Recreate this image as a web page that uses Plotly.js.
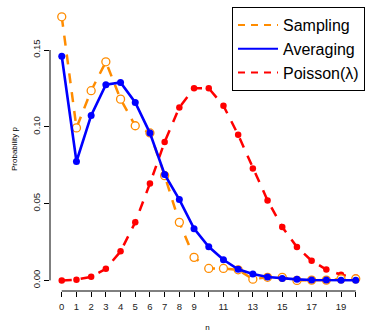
<!DOCTYPE html>
<html>
<head>
<meta charset="utf-8">
<script src="https://cdn.plot.ly/plotly-3.0.1.min.js"></script>
<style>html,body{margin:0;padding:0;background:#fff;}#chart{width:365px;height:332px;}</style>
</head>
<body>
<div id="chart"></div>
<script>
const n = [0,1,2,3,4,5,6,7,8,9,10,11,12,13,14,15,16,17,18,19,20];
const sampling = [0.1716,0.0993,0.1235,0.1423,0.1180,0.1007,0.0960,0.0682,0.0378,0.0150,0.0078,0.0078,0.0069,0.0008,0.0020,0.0020,0.0000,0.0002,0.0002,0.0010,0.0010];
const averaging = [0.1459,0.0774,0.1074,0.1274,0.1289,0.1158,0.0959,0.0690,0.0526,0.0337,0.0219,0.0134,0.0072,0.0041,0.0022,0.0013,0.0007,0.0003,0.0002,0.0001,0.0001];
const poisson = [0.0000,0.0005,0.0023,0.0076,0.0189,0.0378,0.0631,0.0901,0.1126,0.1251,0.1251,0.1137,0.0948,0.0729,0.0521,0.0347,0.0217,0.0128,0.0071,0.0037,0.0019];
const xTickText = ['0','1','2','3','4','5','6','7','8','9','','11','','13','','15','','17','','19',''];
const yTickVals = [0, 0.05, 0.10, 0.15];
const legendNames = ['Sampling','Averaging','Poisson(\u03bb)'];

const orange = '#FF8C00', blue = '#0000FF', red = '#FF0000';
const font = 'Liberation Sans, Arial, sans-serif';

const traces = [
  {x:n, y:poisson, mode:'lines+markers', showlegend:false,
   line:{color:red, width:2.5, dash:'10px,9px'}, marker:{color:red, size:6.5}},
  {x:n, y:sampling, mode:'lines+markers', showlegend:false,
   line:{color:orange, width:2.5, dash:'10px,9px'},
   marker:{color:'#fff', size:8, symbol:'circle', line:{color:orange, width:1.3}}},
  {x:n, y:averaging, mode:'lines+markers', showlegend:false,
   line:{color:blue, width:2.6}, marker:{color:blue, size:7}},
  {x:[null], y:[null], mode:'lines', name:legendNames[0], line:{color:orange, width:2, dash:'7px,6px'}},
  {x:[null], y:[null], mode:'lines', name:legendNames[1], line:{color:blue, width:2}},
  {x:[null], y:[null], mode:'lines', name:legendNames[2], line:{color:red, width:2, dash:'7px,6px'}}
];

const layout = {
  width:365, height:332,
  margin:{l:50, r:0, t:7, b:41},
  paper_bgcolor:'#fff', plot_bgcolor:'#fff',
  font:{family:font, color:'#000'},
  showlegend:true,
  legend:{x:1, xanchor:'right', y:1, yanchor:'top', bordercolor:'#000', borderwidth:1,
          bgcolor:'#fff', font:{size:16, family:font}, itemwidth:40, tracegroupgap:0},
  xaxis:{range:[-0.8,20.63], showgrid:false, zeroline:false, showline:false,
         tickmode:'array', tickvals:n, ticktext:xTickText,
         ticks:'outside', ticklen:5, tickcolor:'#000', tickwidth:1, ticklabelstandoff:2,
         tickfont:{size:9.5, family:font, color:'#222'}, tickangle:0,
         title:{text:'n', font:{size:8, family:font}, standoff:14}},
  yaxis:{range:[-0.0069,0.178], showgrid:false, zeroline:false, showline:false,
         tickmode:'array', tickvals:yTickVals, ticktext:yTickVals.map(v=>v.toFixed(2)),
         ticks:'outside', ticklen:5, tickcolor:'#000', tickwidth:1, tickangle:-90,
         tickfont:{size:9.5, family:font, color:'#222'},
         title:{text:'Probability p', font:{size:8, family:font}, standoff:12}},
  shapes:[
    {type:'line', xref:'x', yref:'paper', x0:0, x1:20, y0:0, y1:0, line:{color:'#000', width:1}},
    {type:'line', xref:'paper', yref:'y', x0:0, x1:0, y0:0, y1:0.15, line:{color:'#000', width:1}}
  ]
};

Plotly.newPlot('chart', traces, layout, {staticPlot:true, displayModeBar:false});
</script>
</body>
</html>
